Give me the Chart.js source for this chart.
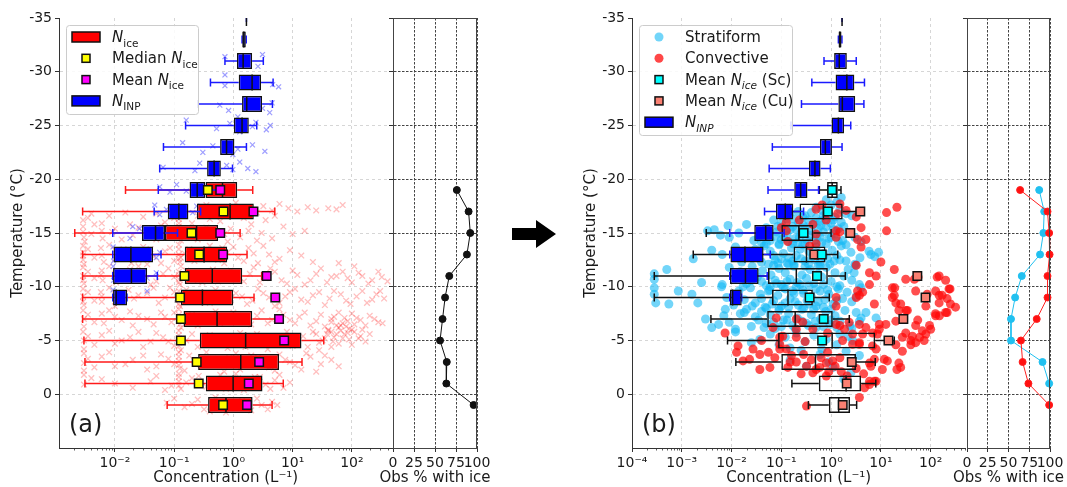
<!DOCTYPE html>
<html lang="en">
<head>
<meta charset="UTF-8">
<meta name="viewport" content="width=device-width, initial-scale=1.0">
<title>Ice and INP concentrations by temperature</title>
<script src="https://cdn.jsdelivr.net/npm/chart.js"></script>
<style>
  body { margin: 0; background: #fff; }
  #fig { position: relative; width: 1067px; height: 487px; overflow: hidden; background: #fff; }
  #fig canvas { position: absolute; top: 0; }
  #arrow { position: absolute; left: 508px; top: 216px; }
</style>
</head>
<body>
<div id="fig">
  <canvas id="mainA" width="400" height="487" style="left:0px"></canvas>
  <canvas id="sideA" width="125" height="487" style="left:370px"></canvas>
  <canvas id="mainB" width="400" height="487" style="left:573px"></canvas>
  <canvas id="sideB" width="123" height="487" style="left:944px"></canvas>
  <svg id="arrow" width="52" height="36"><polygon points="4,12 28,12 28,4 48,18 28,32 28,24 4,24" fill="#000"/></svg>
</div>

<script>
Chart.defaults.font.family = "'DejaVu Sans', sans-serif";
Chart.defaults.font.size = 14;
Chart.defaults.color = '#1a1a1a';

// ---- data -------------------------------------------------------------

// INP box summaries (L^-1), one box per 2 degree bin
const inpTemps = [-35, -33, -31, -29, -27, -25, -23, -21, -19, -17, -15, -13, -11, -9];
const inpLow  = [1.66, 1.40, 0.72, 0.41, 0.254, 0.156, 0.066, 0.057, 0.054, 0.046, 0.0092, 0.0092, 0.0092, 0.0092];
const inpQ1   = [1.66, 1.41, 1.15, 1.23, 1.40, 1.02, 0.597, 0.36, 0.182, 0.078, 0.0286, 0.0095, 0.0093, 0.0093];
const inpMed  = [1.66, 1.50, 1.46, 2.07, 1.68, 1.40, 0.766, 0.473, 0.245, 0.12, 0.0485, 0.0186, 0.019, 0.0105];
const inpQ3   = [1.66, 1.62, 2.07, 2.93, 3.05, 1.82, 1.04, 0.614, 0.335, 0.174, 0.070, 0.044, 0.035, 0.016];
const inpHigh = [1.66, 1.65, 3.2, 4.68, 4.56, 2.48, 1.66, 0.966, 0.56, 0.28, 0.114, 0.06, 0.052, 0.016];

// ice number concentration, all clouds (panel a)
const iceTemps = [-19, -17, -15, -13, -11, -9, -7, -5, -3, -1, 1];
const iceLow  = [0.0151, 0.00285, 0.0021, 0.00285, 0.00285, 0.00285, 0.00285, 0.0030, 0.00312, 0.00312, 0.0762];
const iceQ1   = [0.339, 0.243, 0.07, 0.151, 0.151, 0.13, 0.144, 0.271, 0.254, 0.343, 0.374];
const iceMed  = [0.655, 0.88, 0.239, 0.32, 0.44, 0.30, 0.53, 1.61, 1.33, 0.99, 0.75];
const iceQ3   = [1.16, 2.21, 0.552, 0.786, 1.41, 0.99, 2.08, 14.1, 5.9, 3.1, 2.11];
const iceHigh = [2.12, 5.0, 1.3, 1.7, 3.0, 2.23, 5.2, 33.5, 14.4, 6.95, 4.5];
const iceMedianMark = [0.37, 0.68, 0.196, 0.264, 0.149, 0.126, 0.13, 0.13, 0.24, 0.26, 0.67];
const iceMeanMark   = [0.60, 2.18, 0.60, 0.67, 3.65, 5.1, 5.9, 7.2, 2.72, 1.82, 1.70];

// ice number concentration split by cloud type (panel b)
const nbLow  = [0.58, 0.16, 0.0031, 0.0017, 0.00028, 0.00028, 0.00385, 0.0083, 0.0122, 0.163, 0.35];
const nbQ1   = [0.83, 0.232, 0.10, 0.176, 0.054, 0.065, 0.052, 0.086, 0.10, 0.566, 0.90];
const nbMed  = [1.05, 0.70, 0.225, 0.32, 0.20, 0.136, 0.19, 1.05, 0.485, 2.0, 1.42];
const nbQ3   = [1.36, 1.71, 0.44, 0.77, 0.86, 0.43, 1.08, 7.7, 3.16, 4.0, 2.4];
const nbHigh = [1.58, 3.2, 1.0, 1.36, 1.93, 0.92, 2.32, 18.6, 7.7, 7.9, 3.26];
const scMean = [1.05, 0.86, 0.28, 0.65, 0.52, 0.37, 0.71, 0.66, null, null, null];
const cuMean = [null, 3.86, 2.43, 0.46, 54, 79, 28.3, 14.2, 2.6, 2.06, 1.71];

// percentage of observations with ice
const obsTemps = [-19, -17, -15, -13, -11, -9, -7, -5, -3, -1, 1];
const obsAll = [76, 90, 92, 88, 67, 62, 59, 56, 64, 63.5, 96];
const obsSc  = [87, 93, 92, 88, 66, 58, 53, 53, 91, 99, null];
const obsCu  = [64, 97, 99, 99.5, 97, 97, 84, 65, 67, 74, 99];

// tick positions
const tempTicks = [-35, -30, -25, -20, -15, -10, -5, 0];
const decadesA = [1e-2, 1e-1, 1, 10, 100];
const decadesB = [1e-4, 1e-3, 1e-2, 1e-1, 1, 10, 100];
const obsTicks = [0, 25, 50, 75, 100];

// individual INP samples [conc, temp]
const inpSamples = [
  [0.72,-31.4],[3.1,-31.6],[2.6,-30.5],[0.72,-29.7],[0.72,-28.7],[4.6,-28.8],[5.8,-28.6],
  [0.59,-26.9],[0.83,-26.4],[1.19,-25.8],[3.1,-26.6],[4.1,-26.2],[4.5,-27.1],
  [0.16,-25.5],[0.52,-24.7],[0.87,-25.2],[1.28,-24.4],[2.1,-24.9],[2.4,-25.3],[3.6,-24.6],[4.2,-25.0],
  [0.139,-23.4],[0.305,-22.5],[0.45,-23.1],[0.98,-22.3],[1.19,-22.8],[2.1,-23.2],[3.4,-22.6],
  [0.065,-21.1],[0.224,-20.8],[0.27,-21.5],[0.52,-20.6],[0.77,-21.3],[0.98,-20.9],[1.28,-21.6],[1.75,-21.0],[2.4,-20.7],
  [0.057,-19.3],[0.085,-18.8],[0.11,-19.5],[0.16,-18.9],[0.27,-19.4],[0.45,-18.7],[0.77,-19.1],
  [0.047,-17.6],[0.057,-16.7],[0.074,-17.2],[0.206,-16.9],[0.24,-17.5],
  [0.018,-14.5],[0.026,-15.4],[0.05,-14.9],[0.02,-15.6],
  [0.0093,-13.7],[0.05,-12.7],[0.057,-13.2],[0.0095,-12.4],
  [0.0093,-11.9],[0.035,-10.8],[0.05,-11.3],[0.0095,-10.6],[0.0093,-9.7],[0.035,-9.6]
];

// individual ice samples [conc, temp]
const iceSamples = [
  [0.35,-17.6],[0.6,-17.2],[1.1,-17.8],[1.8,-17.4],[2.5,-16.9],[3.2,-17.5],[4.5,-17.1],[6,-17.7],[8.5,-17.3],
  [12,-17.0],[18,-17.4],[25,-17.1],[40,-17.3],[55,-17.2],[70,-17.6],[0.15,-17.0],[0.8,-16.7],[5,-16.6],
  [0.0029,-16.2],[0.0029,-15.6],[0.0029,-15.1],[0.003,-14.6],[0.0031,-14.2],[0.006,-15.9],[0.006,-15.2],
  [0.0062,-14.5],[0.01,-15.4],[0.018,-15.8],[0.02,-14.8],[0.035,-15.3],[0.05,-14.4],[0.07,-16.0],[0.09,-15.0],
  [0.12,-15.6],[0.12,-14.8],[0.13,-14.3],[0.2,-15.9],[0.3,-15.2],[0.45,-14.7],[0.6,-16.1],[0.9,-15.4],
  [1.3,-14.6],[2,-15.8],[3,-15.0],[4.5,-14.5],[7,-15.6],[10,-14.9],[16,-15.2],
  [0.0029,-13.8],[0.0029,-13.2],[0.0029,-12.5],[0.003,-12.1],[0.0058,-13.6],[0.006,-12.9],[0.0065,-12.3],
  [0.01,-13.4],[0.01,-12.6],[0.017,-13.1],[0.019,-12.2],[0.03,-13.7],[0.045,-12.8],[0.07,-13.3],[0.1,-12.4],
  [0.12,-13.9],[0.12,-13.0],[0.125,-12.3],[0.13,-12.7],[0.18,-13.5],[0.25,-12.9],[0.4,-13.8],[0.55,-12.5],
  [0.8,-13.2],[1.2,-12.7],[1.8,-13.6],[2.6,-12.2],[4,-13.0],[6,-12.6],[9,-13.4],[14,-12.9],[22,-12.3],
  [0.0029,-11.8],[0.0029,-11.0],[0.003,-10.3],[0.006,-11.5],[0.0062,-10.6],[0.01,-11.2],[0.0105,-10.4],
  [0.018,-11.6],[0.02,-10.8],[0.03,-11.3],[0.05,-10.5],[0.08,-11.7],[0.12,-11.4],[0.12,-10.7],[0.125,-10.2],
  [0.13,-11.9],[0.2,-11.0],[0.3,-10.4],[0.45,-11.6],[0.7,-10.9],[1,-11.3],[1.5,-10.5],[2.2,-11.8],[3.5,-10.8],
  [5,-11.4],[8,-10.3],[12,-11.1],[20,-10.6],[30,-11.7],[45,-10.9],[70,-11.4],[100,-10.4],[150,-11.0],
  [220,-10.6],[320,-10.9],[60,-12.2],[110,-11.9],
  [0.0029,-9.8],[0.0029,-9.1],[0.003,-8.3],[0.0058,-9.5],[0.006,-8.6],[0.01,-9.3],[0.01,-8.2],[0.017,-9.7],
  [0.021,-8.9],[0.035,-9.4],[0.055,-8.5],[0.085,-9.9],[0.12,-9.6],[0.12,-8.8],[0.125,-8.2],[0.2,-9.2],
  [0.32,-8.6],[0.5,-9.7],[0.75,-8.9],[1.1,-9.4],[1.7,-8.4],[2.6,-9.8],[4,-9.0],[6,-8.5],[9,-9.5],[14,-8.8],
  [22,-9.2],[35,-8.3],[50,-9.6],[80,-8.7],[120,-9.1],[180,-8.5],[260,-9.3],[350,-8.9],
  [0.0029,-7.8],[0.003,-7.0],[0.003,-6.3],[0.006,-7.5],[0.0065,-6.6],[0.01,-7.2],[0.018,-7.7],[0.02,-6.4],
  [0.035,-7.0],[0.06,-7.6],[0.09,-6.7],[0.12,-7.9],[0.12,-7.1],[0.125,-6.5],[0.13,-6.2],[0.2,-7.4],[0.3,-6.8],
  [0.5,-7.7],[0.8,-6.9],[1.2,-7.3],[2,-6.5],[3,-7.8],[4.5,-6.9],[7,-7.4],[11,-6.6],[16,-7.6],[25,-6.8],
  [35,-6.3],[50,-7.2],[70,-6.6],[100,-7.5],[140,-6.9],[200,-7.3],[280,-6.7],[40,-6.0],[60,-6.2],[90,-6.1],
  [0.0029,-5.8],[0.003,-5.0],[0.003,-4.2],[0.006,-5.5],[0.01,-4.7],[0.018,-5.3],[0.03,-4.4],[0.05,-5.7],
  [0.08,-4.9],[0.12,-5.9],[0.12,-5.2],[0.12,-4.5],[0.13,-4.1],[0.2,-5.6],[0.3,-4.8],[0.5,-5.3],[0.8,-4.3],
  [1.3,-5.7],[2,-4.9],[3,-5.4],[5,-4.6],[8,-5.8],[12,-5.1],[18,-4.4],[25,-5.6],[32,-5.0],[40,-5.9],[50,-5.3],
  [60,-4.7],[75,-5.6],[90,-5.1],[110,-5.8],[140,-5.4],[170,-4.9],[45,-4.4],[28,-4.1],[65,-6.4],[100,-6.0],[35,-5.2],
  [0.003,-3.8],[0.003,-2.9],[0.003,-2.2],[0.006,-3.5],[0.01,-2.6],[0.02,-3.2],[0.035,-2.3],[0.06,-3.7],
  [0.1,-2.8],[0.12,-3.9],[0.12,-3.1],[0.125,-2.4],[0.18,-3.6],[0.28,-2.7],[0.45,-3.3],[0.7,-2.1],[1.1,-3.8],
  [1.7,-2.9],[2.6,-3.4],[4,-2.5],[6,-3.7],[9,-3.0],[14,-2.3],[20,-3.5],[30,-2.8],[45,-3.2],[60,-2.6],
  [0.003,-1.8],[0.003,-0.9],[0.006,-1.4],[0.02,-0.6],[0.05,-1.7],[0.09,-0.8],[0.12,-1.9],[0.12,-1.2],
  [0.13,-0.5],[0.2,-1.5],[0.35,-0.7],[0.6,-1.8],[0.9,-1.1],[1.5,-0.4],[2.3,-1.6],[3.5,-0.9],[5,-1.3],
  [7,-0.6],[1.1,-1.9],
  [0.075,0.8],[0.15,1.2],[0.25,0.5],[0.4,1.6],[0.6,0.9],[0.9,1.3],[1.4,0.6],[2,1.5],[3,1.0],[4.5,0.7],
  [0.004,-16.8],[0.0035,-16.4],[0.008,-16.6],[0.015,-16.9],[0.03,-16.5],[0.05,-16.8],[0.1,-16.4],[0.25,-16.6],
  [0.4,-16.3],[1.5,-16.4],[3.5,-16.2],[0.0045,-15.8],[0.009,-15.1],[0.025,-15.5],[0.06,-15.7],[0.15,-15.3],
  [0.12,-16.3],[0.12,-15.9],[0.35,-15.5],[0.7,-14.9],[1.8,-15.2],[0.013,-14.4],[0.25,-14.4],[0.8,-14.2],
  [2.5,-14.3],[0.004,-14.9],
  [0.0035,-13.5],[0.0045,-12.7],[0.008,-13.9],[0.013,-12.9],[0.025,-12.5],[0.04,-13.5],[0.06,-12.2],
  [0.085,-13.6],[0.12,-13.5],[0.12,-12.6],[0.15,-13.1],[0.22,-12.4],[0.32,-13.4],[0.5,-13.0],[0.7,-12.2],
  [1.0,-13.7],[1.5,-12.4],[2.2,-13.1],[3.2,-13.8],[5,-12.3],[0.0029,-12.9],[0.014,-13.5],[0.035,-12.1],[0.65,-13.6],
  [0.0035,-11.4],[0.0045,-10.8],[0.008,-11.9],[0.013,-10.9],[0.025,-11.9],[0.04,-10.2],[0.065,-11.2],
  [0.1,-10.9],[0.12,-11.1],[0.12,-10.4],[0.16,-11.5],[0.25,-10.6],[0.38,-11.3],[0.55,-10.5],[0.9,-11.5],
  [1.3,-10.8],[1.9,-11.2],[2.8,-10.4],[4.2,-11.7],[6.5,-10.6],[10,-11.5],[16,-10.2],[25,-11.2],[38,-10.4],
  [55,-11.0],[85,-10.8],[130,-11.3],[190,-10.3],[280,-11.4],[400,-10.5],[0.0029,-10.6],[0.0058,-11.1],
  [0.0035,-9.5],[0.0045,-8.7],[0.008,-9.9],[0.013,-8.6],[0.025,-9.2],[0.045,-9.9],[0.07,-9.0],[0.1,-9.5],
  [0.12,-9.2],[0.12,-8.4],[0.16,-9.7],[0.25,-9.0],[0.4,-8.5],[0.6,-9.3],[0.9,-8.7],[1.4,-9.1],[2.1,-8.7],
  [3.2,-9.4],[5,-8.2],[7.5,-9.1],[11,-9.8],[18,-8.6],[28,-9.5],[42,-8.9],[65,-9.3],[95,-8.4],[150,-9.6],
  [220,-8.8],[300,-9.6],[0.0029,-8.6],[0.006,-9.1],
  [0.0035,-7.4],[0.0045,-6.7],[0.008,-7.8],[0.013,-6.9],[0.025,-7.3],[0.045,-6.5],[0.07,-7.2],[0.1,-7.6],
  [0.12,-7.4],[0.12,-6.8],[0.16,-7.0],[0.25,-6.4],[0.4,-7.1],[0.6,-6.6],[1.0,-7.6],[1.6,-6.9],[2.5,-7.3],
  [3.8,-6.6],[6,-7.9],[9,-6.9],[13,-7.2],[20,-6.4],[30,-7.4],[45,-6.7],[60,-7.6],[85,-6.8],[120,-7.1],
  [170,-6.4],[240,-7.0],[330,-6.6],[45,-7.0],[55,-6.4],[75,-7.1],[110,-6.5],[150,-6.0],
  [0.0035,-5.4],[0.0045,-4.6],[0.008,-5.9],[0.013,-5.0],[0.025,-5.8],[0.04,-4.9],[0.065,-5.3],[0.1,-4.5],
  [0.12,-5.5],[0.12,-4.8],[0.16,-5.0],[0.25,-4.4],[0.4,-5.5],[0.6,-4.7],[1.0,-5.2],[1.6,-4.4],[2.5,-5.6],
  [3.8,-4.2],[6,-5.2],[10,-4.5],[15,-5.4],[22,-5.8],[28,-4.8],[38,-5.6],[48,-4.9],[55,-5.6],[70,-5.2],
  [85,-5.7],[100,-4.6],[130,-5.2],[200,-5.6],[65,-5.9],[45,-5.8],[80,-6.3],
  [0.0035,-3.3],[0.0045,-2.5],[0.008,-3.9],[0.015,-2.8],[0.03,-3.6],[0.05,-2.6],[0.08,-3.3],[0.12,-3.5],
  [0.12,-2.7],[0.15,-2.2],[0.22,-3.1],[0.35,-3.9],[0.55,-2.9],[0.85,-3.4],[1.3,-2.3],[2,-3.6],[3.2,-3.0],
  [5,-2.2],[7.5,-3.2],[11,-2.7],[17,-3.8],[25,-2.1],[35,-3.6],
  [0.004,-1.5],[0.01,-1.0],[0.04,-1.2],[0.07,-0.4],[0.12,-1.6],[0.12,-0.8],[0.16,-1.1],[0.26,-1.7],
  [0.45,-1.3],[0.75,-0.5],[1.2,-1.5],[1.9,-0.8],[2.8,-1.6],[4.2,-0.5],[6,-1.8],[9,-1.1],
  [0.1,0.4],[0.2,0.9],[0.32,1.4],[0.5,0.3],[0.75,1.7],[1.1,0.8],[1.7,1.1],[2.5,0.4],[3.8,1.4],[5.5,1.0]
];

// stratiform cloud samples [conc, temp]
const stratSamples = [
  [0.8,-18.1],[1.3,-17.9],[1.6,-18.3],[0.5,-17.4],[0.65,-17.1],[1.0,-17.6],[1.5,-17.2],[2.0,-16.8],
  [0.4,-16.9],[0.3,-16.6],[0.22,-17.0],[0.9,-16.7],[1.2,-16.5],[2.6,-16.6],[0.15,-16.8],[0.7,-16.6],
  [0.0033,-15.2],[0.0045,-15.3],[0.006,-14.8],[0.0085,-15.7],[0.009,-14.6],[0.014,-15.0],[0.02,-15.8],[0.05,-15.5],
  [0.07,-16.2],[0.1,-15.9],[0.13,-16.3],[0.17,-15.6],[0.22,-16.0],[0.28,-15.7],[0.35,-16.2],[0.45,-15.9],
  [0.6,-16.1],[0.8,-15.6],[1.0,-15.9],[1.4,-15.4],[0.08,-15.1],[0.11,-14.7],[0.15,-15.3],[0.19,-14.5],
  [0.25,-15.0],[0.32,-14.4],[0.4,-15.2],[0.52,-14.7],[0.7,-15.1],[0.9,-14.5],[1.2,-14.9],[1.7,-14.3],
  [2.2,-15.0],[3.0,-14.6],[0.06,-14.3],[0.09,-14.0],[0.14,-14.2],[0.21,-14.1],[0.3,-14.0],[0.46,-14.3],
  [0.65,-14.1],[4.0,-14.2],[0.035,-14.6],[0.04,-14.1],
  [0.0017,-12.6],[0.004,-13.4],[0.0065,-13.0],[0.012,-13.7],[0.016,-12.3],[0.025,-13.2],[0.032,-12.7],
  [0.045,-13.8],[0.06,-13.3],[0.075,-12.5],[0.09,-13.9],[0.11,-13.1],[0.13,-12.2],[0.16,-13.6],[0.2,-12.9],
  [0.24,-13.5],[0.3,-12.4],[0.36,-13.3],[0.42,-12.8],[0.5,-13.7],[0.6,-12.3],[0.72,-13.1],[0.85,-12.6],
  [1.05,-13.4],[1.3,-12.9],[1.6,-13.8],[2.0,-12.4],[2.5,-13.2],[3.0,-12.1],[3.8,-12.7],[5.8,-13.3],
  [6.3,-13.0],[9.0,-13.2],[7.5,-12.8],[0.055,-12.1],[0.1,-12.6],[0.18,-12.1],[0.27,-13.9],[0.55,-12.0],
  [0.00028,-11.2],[0.00028,-10.7],[0.0005,-11.6],[0.0025,-10.4],[0.0065,-10.2],[0.009,-11.8],[0.012,-10.8],
  [0.015,-11.4],[0.02,-10.3],[0.026,-11.9],[0.033,-10.9],[0.042,-11.5],[0.05,-10.1],[0.062,-11.1],
  [0.075,-10.6],[0.09,-11.7],[0.1,-10.2],[0.12,-11.3],[0.15,-10.7],[0.18,-11.9],[0.21,-10.4],[0.26,-11.1],
  [0.32,-10.8],[0.38,-11.6],[0.45,-10.3],[0.55,-11.2],[0.65,-10.9],[0.8,-11.8],[1.0,-10.5],[1.2,-11.3],
  [1.5,-10.1],[1.8,-11.0],[2.2,-11.6],[2.6,-10.6],[3.1,-12.0],[3.7,-10.2],[2.9,-11.3],[0.07,-12.0],
  [0.14,-12.1],[0.3,-11.9],[0.6,-12.0],
  [0.00028,-9.9],[0.00028,-9.3],[0.0003,-8.5],[0.00055,-8.4],[0.00085,-9.6],[0.0016,-9.3],[0.0021,-8.5],
  [0.0063,-10.0],[0.008,-9.0],[0.011,-8.3],[0.014,-9.6],[0.018,-8.8],[0.024,-9.9],[0.03,-8.5],[0.038,-9.3],
  [0.047,-8.1],[0.058,-9.7],[0.07,-8.7],[0.085,-9.2],[0.1,-8.2],[0.12,-9.8],[0.15,-8.9],[0.18,-9.4],
  [0.22,-8.3],[0.27,-9.7],[0.33,-8.7],[0.4,-9.1],[0.5,-8.2],[0.6,-9.6],[0.75,-8.8],[0.9,-9.3],[1.1,-8.4],
  [1.4,-9.8],[1.7,-8.9],[2.1,-9.5],[2.6,-8.6],[3.2,-9.1],[4.0,-9.9],[0.06,-10.0],[0.2,-10.0],
  [0.003,-7.0],[0.004,-6.2],[0.0055,-6.5],[0.007,-7.3],[0.0075,-7.9],[0.009,-6.7],[0.012,-6.05],
  [0.015,-7.5],[0.02,-7.9],[0.025,-6.3],[0.03,-7.2],[0.04,-7.7],[0.05,-6.6],[0.06,-7.4],[0.075,-6.1],
  [0.09,-7.8],[0.11,-6.9],[0.14,-7.5],[0.17,-6.4],[0.21,-7.1],[0.26,-7.9],[0.32,-6.6],[0.4,-7.4],[0.5,-6.2],
  [0.62,-7.0],[0.78,-7.7],[0.95,-6.5],[1.2,-7.3],[1.5,-6.8],[1.9,-7.8],[2.4,-6.4],[3.2,-7.6],[4.0,-7.1],
  [5.0,-7.6],[8.0,-7.1],[3.7,-6.8],[2.6,-6.1],
  [0.012,-5.8],[0.025,-4.8],[0.037,-5.1],[0.06,-5.6],[0.09,-4.6],[0.12,-5.3],[0.15,-4.3],[0.2,-5.7],
  [0.3,-4.9],[0.45,-5.5],[0.65,-4.2],[0.8,-5.1],[1.3,-4.6],[1.5,-5.6],[2.0,-4.0],[2.7,-5.0],[2.2,-5.4],[0.25,-4.1],
  [0.15,-3.2],[0.32,-2.6],[0.6,-3.7],[1.1,-2.5],[2.5,-2.0],[3.7,-3.6],[1.8,-1.4],[0.9,-3.0],
  [0.12,-16.6],[0.18,-16.3],[0.27,-16.5],[0.5,-16.4],[0.75,-16.3],[1.1,-16.2],[1.6,-16.0],[0.085,-15.6],
  [0.13,-15.4],[0.2,-15.3],[0.3,-15.5],[0.55,-15.4],[0.62,-15.7],[1.1,-15.3],[1.8,-15.6],
  [0.05,-14.0],[0.075,-14.7],[0.1,-14.4],[0.13,-14.8],[0.17,-14.0],[0.23,-14.6],[0.37,-14.8],[0.6,-14.6],
  [0.8,-14.0],[1.0,-14.6],[1.4,-14.2],[2.0,-13.9],[0.045,-14.9],[0.028,-14.3],
  [0.04,-12.3],[0.07,-12.9],[0.085,-12.2],[0.14,-12.7],[0.17,-12.4],[0.25,-12.6],[0.35,-12.1],[0.47,-12.5],
  [0.7,-12.8],[0.95,-12.1],[1.15,-12.4],[1.5,-12.5],[0.02,-12.9],[0.03,-13.5],
  [0.04,-10.5],[0.055,-9.6],[0.08,-10.3],[0.11,-9.9],[0.13,-10.5],[0.17,-9.6],[0.24,-10.2],[0.28,-9.4],
  [0.36,-10.1],[0.5,-9.8],[0.7,-10.2],[0.85,-9.7],[1.3,-10.0],[0.025,-10.6],[0.017,-10.0],
  [0.04,-8.9],[0.05,-8.0],[0.065,-8.4],[0.09,-8.0],[0.12,-8.5],[0.14,-8.1],[0.19,-8.6],[0.28,-8.0],
  [0.36,-8.4],[0.45,-7.9],[0.55,-8.6],[0.7,-8.1],[1.0,-7.9],[1.3,-8.7],[0.026,-8.2],[0.018,-7.6],
  [0.035,-6.9],[0.045,-6.2],[0.07,-6.7],[0.1,-6.3],[0.13,-6.9],[0.19,-6.1],[0.26,-6.8],[0.35,-6.4],
  [0.48,-6.8],[0.7,-6.3],[1.0,-6.9],[1.3,-6.2]
];

// convective cloud samples [conc, temp]
const convSamples = [
  [0.5,-17.2],[0.66,-17.6],[1.5,-17.7],[2.0,-17.1],[1.35,-16.8],[13,-16.9],[21,-17.4],[0.126,-16.0],
  [0.126,-15.2],[0.23,-16.2],[0.43,-15.8],[1.26,-15.2],[1.5,-15.1],[4.0,-15.5],[5.0,-14.4],[3.4,-14.4],
  [13,-15.2],[0.37,-13.8],[0.5,-14.0],[0.8,-16.2],[3.2,-16.5],[0.1,-15.5],[1.26,-14.6],[0.5,-14.9],
  [0.135,-14.2],[4,-13.7],
  [5.9,-11.3],[4.3,-9.5],[18.6,-11.6],[31.6,-10.7],[17,-9.9],[17,-9.0],[25,-8.4],[23,-7.8],[34,-7.8],
  [47,-10.7],[85,-9.3],[148,-11.0],[200,-10.6],[234,-9.8],[148,-9.2],[214,-8.9],[316,-8.1],[214,-7.6],
  [126,-7.3],[56,-10.9],[135,-10.9],[245,-9.8],[170,-9.2],[126,-9.6],[50,-9.6],[19,-9.9],[5.9,-10.2],
  [3.4,-9.6],[3.7,-9.2],[1.26,-9.0],[0.5,-12.9],[3.2,-12.0],[8,-11.0],[10,-12.3],
  [100,-6.05],[68,-5.9],[50,-6.4],[40,-5.0],[60,-5.3],[80,-5.6],[40,-4.6],[27,-5.3],[20,-4.6],[27,-4.0],
  [9.3,-6.5],[8.5,-5.6],[5,-6.2],[3.7,-4.8],[74,-5.0],[95,-6.4],[55,-6.9],[150,-7.3],[125,-7.5],[200,-7.6],
  [250,-8.4],[148,-8.5],[80,-8.2],[32,-7.8],[20,-8.5],[18.6,-9.2],[7.4,-8.4],[3.2,-9.0],[1.26,-8.2],
  [0.0074,-5.7],[0.0126,-3.9],[0.0135,-4.5],[0.017,-3.1],[0.023,-3.25],[0.027,-4.2],[0.037,-3.7],
  [0.037,-2.3],[0.059,-2.5],[0.074,-3.4],[0.079,-7.1],[0.107,-5.4],[0.093,-4.65],[0.126,-4.2],[0.135,-2.5],
  [0.2,-7.0],[0.27,-6.7],[0.2,-6.05],[0.32,-2.6],[0.43,-2.0],[0.59,-2.5],[0.63,-3.4],[0.85,-3.9],[0.8,-2.9],
  [1.07,-3.1],[1.5,-3.4],[1.7,-5.0],[1.86,-6.05],[1.5,-6.4],[2.3,-6.7],[2.7,-4.65],[3.7,-4.65],[4.3,-5.6],
  [6.8,-5.7],[9.3,-6.05],[5.9,-2.9],[8,-1.2],[5.9,-0.9],[2.1,-1.7],[0.8,-1.7],[0.32,1.1],[13.5,-3.1],
  [23,-2.9],[25,-2.5],[12.6,-6.5],[20,-6.8],[31.6,-5.7],[43,-5.4],[50,-4.8],[0.068,-6.2],[0.093,-5.3],
  [0.2,-5.3],[0.43,-6.05],[0.85,-5.7],[1.26,-6.5],[2.7,-5.6],[3.7,-6.5],[6.8,-4.5],[8,-4.2],[0.093,-4.2],
  [0.16,-3.6],[0.2,-3.0],[0.28,-3.7],[0.4,-3.2],[0.25,-1.9],[0.5,-2.3],[0.9,-2.1],[1.2,-2.6],[1.6,-2.1],
  [3.2,-2.4],[4.5,-1.9],[6.3,-2.6],[11.7,-3.25],[21,-2.3],[10.7,-2.3],[7.4,-3.25],[5.9,-1.2],[7.4,-1.2],
  [4.7,-0.6],[3.7,0.3],[0.3,-4.9],[0.15,-3.0],[0.055,-3.9],[0.04,-5.0]
];

// ---- helpers ----------------------------------------------------------

const SUP = { '-': '\u207B', '0': '\u2070', '1': '\u00B9', '2': '\u00B2', '3': '\u00B3', '4': '\u2074' };
const pow10Label = v => '10' + String(Math.round(Math.log10(v))).split('').map(c => SUP[c]).join('');
const pts = arr => arr.map(([x, y]) => ({ x, y }));
const rowPts = (vals, temps) => temps.map((t, i) => ({ x: vals[i], y: t })).filter(p => p.x !== null);
const floatBars = (q1, q3, temps) => temps.map((t, i) => ({ y: t, x: [q1[i], q3[i]] }));

const CAP = 0.38;   // whisker cap half height (deg)
const HALF = 0.75;  // box half height (deg)

// whiskers go under their box, medians on top of it
const boxDraw = {
  id: 'boxDraw',
  beforeDatasetDraw(chart, args) {
    const ds = chart.data.datasets[args.index];
    if (!ds.stats) return;
    const { x, y } = chart.scales, s = ds.stats, ctx = chart.ctx, a = chart.chartArea;
    ctx.save();
    ctx.beginPath(); ctx.rect(a.left, a.top, a.right - a.left, a.bottom - a.top); ctx.clip();
    ctx.strokeStyle = ds.whiskerColor; ctx.lineWidth = 1.5;
    ctx.beginPath();
    s.temps.forEach((t, i) => {
      const yc = y.getPixelForValue(t), ya = y.getPixelForValue(t - CAP), yb = y.getPixelForValue(t + CAP);
      const lo = x.getPixelForValue(s.low[i]), q1 = x.getPixelForValue(s.q1[i]);
      const q3 = x.getPixelForValue(s.q3[i]), hi = x.getPixelForValue(s.high[i]);
      ctx.moveTo(lo, yc); ctx.lineTo(q1, yc);
      ctx.moveTo(q3, yc); ctx.lineTo(hi, yc);
      ctx.moveTo(lo, ya); ctx.lineTo(lo, yb);
      ctx.moveTo(hi, ya); ctx.lineTo(hi, yb);
    });
    ctx.stroke(); ctx.restore();
  },
  afterDatasetDraw(chart, args) {
    const ds = chart.data.datasets[args.index];
    if (!ds.stats) return;
    const { x, y } = chart.scales, s = ds.stats, ctx = chart.ctx, a = chart.chartArea;
    ctx.save();
    ctx.beginPath(); ctx.rect(a.left, a.top, a.right - a.left, a.bottom - a.top); ctx.clip();
    ctx.strokeStyle = '#111'; ctx.lineWidth = 1.5;
    ctx.beginPath();
    s.temps.forEach((t, i) => {
      const m = x.getPixelForValue(s.med[i]);
      ctx.moveTo(m, y.getPixelForValue(t - HALF)); ctx.lineTo(m, y.getPixelForValue(t + HALF));
    });
    ctx.stroke(); ctx.restore();
  }
};

// small ticks between decades on the log axis
const minorTicks = {
  id: 'minorTicks',
  afterDraw(chart) {
    const sx = chart.scales.x, ctx = chart.ctx, b = chart.chartArea.bottom;
    ctx.save(); ctx.strokeStyle = '#333'; ctx.lineWidth = 0.8; ctx.beginPath();
    for (let e = Math.floor(Math.log10(sx.min)); e <= Math.ceil(Math.log10(sx.max)); e++) {
      for (let k = 2; k < 10; k++) {
        const v = k * Math.pow(10, e);
        if (v < sx.min || v > sx.max) continue;
        const px = Math.round(sx.getPixelForValue(v)) + 0.5;
        ctx.moveTo(px, b); ctx.lineTo(px, b + 2.5);
      }
    }
    ctx.stroke(); ctx.restore();
  }
};

// box around the narrow panel plus its x title (drawn here so it is not squeezed to the axis width)
const sideFrame = {
  id: 'sideFrame',
  afterDraw(chart) {
    const a = chart.chartArea, ctx = chart.ctx;
    ctx.save(); ctx.strokeStyle = '#444'; ctx.lineWidth = 1;
    ctx.strokeRect(Math.round(a.left) + 0.5, Math.round(a.top) + 0.5, Math.round(a.right - a.left) - 1, Math.round(a.bottom - a.top));
    ctx.fillStyle = '#1a1a1a'; ctx.font = "15px 'DejaVu Sans'";
    ctx.textAlign = 'center'; ctx.textBaseline = 'middle';
    ctx.fillText('Obs % with ice', (a.left + a.right) / 2, 478);
    ctx.restore();
  }
};

// text made of pieces: n normal, i italic, s subscript, si italic subscript
function richText(ctx, parts, x, y, size) {
  parts.forEach(([str, kind]) => {
    const sub = kind.includes('s'), it = kind.includes('i');
    const fs = sub ? size * 0.7 : size;
    ctx.font = (it ? 'italic ' : '') + fs + "px 'DejaVu Sans'";
    ctx.fillText(str, x, y + (sub ? size * 0.3 : 0));
    x += ctx.measureText(str).width;
  });
}

function legendBox(w, h, items) {
  return {
    id: 'boxLegend',
    afterDraw(chart) {
      const ctx = chart.ctx, a = chart.chartArea;
      const L = Math.round(a.left) + 7, T = Math.round(a.top) + 7;
      ctx.save();
      ctx.fillStyle = 'rgba(255,255,255,0.85)'; ctx.strokeStyle = '#cccccc'; ctx.lineWidth = 1;
      ctx.beginPath(); ctx.roundRect(L + 0.5, T + 0.5, w, h, 3); ctx.fill(); ctx.stroke();
      items.forEach((it, i) => {
        const cy = T + 12 + i * 21.3, cx = L + 20;
        ctx.lineWidth = 1.5; ctx.strokeStyle = '#111'; ctx.fillStyle = it.color;
        if (it.kind === 'rect') {
          ctx.fillRect(cx - 14, cy - 5, 28, 10); ctx.strokeRect(cx - 14, cy - 5, 28, 10);
        } else if (it.kind === 'square') {
          ctx.fillRect(cx - 4, cy - 4, 8, 8); ctx.strokeRect(cx - 4, cy - 4, 8, 8);
        } else {
          ctx.beginPath(); ctx.arc(cx, cy, 4.5, 0, 2 * Math.PI); ctx.fill();
        }
        ctx.fillStyle = '#1a1a1a'; ctx.textBaseline = 'alphabetic';
        richText(ctx, it.text, L + 46, cy + 5, 15);
      });
      ctx.restore();
    }
  };
}

function panelTag(text) {
  return {
    id: 'panelTag',
    afterDraw(chart) {
      const ctx = chart.ctx, a = chart.chartArea;
      ctx.save(); ctx.fillStyle = '#1a1a1a'; ctx.font = "24px 'DejaVu Sans'";
      ctx.textBaseline = 'alphabetic'; ctx.fillText(text, a.left + 10, a.bottom - 16);
      ctx.restore();
    }
  };
}

const lightGrid = 'rgba(0,0,0,0.16)';

function mainChart(id, xMin, xMax, decades, datasets, legend, tag) {
  return new Chart(document.getElementById(id), {
    type: 'scatter',
    data: { datasets },
    options: {
      responsive: false, animation: false, events: [],
      layout: { padding: { left: 0, top: 18, right: 7, bottom: 0 } },
      plugins: { legend: { display: false }, tooltip: { enabled: false } },
      scales: {
        x: {
          type: 'logarithmic', min: xMin, max: xMax, beginAtZero: false, offset: false,
          afterBuildTicks: s => { s.ticks = decades.map(v => ({ value: v })); },
          afterFit: s => { s.height = 39; },
          ticks: { callback: v => pow10Label(v), padding: 3, maxRotation: 0, autoSkip: false },
          grid: { color: lightGrid, tickColor: '#333', tickLength: 4, offset: false },
          border: { color: '#333', width: 1, dash: [3, 3] },
          title: { display: true, text: 'Concentration (L\u207B\u00B9)', font: { size: 15 }, padding: { top: 0, bottom: 0 } }
        },
        y: {
          type: 'linear', reverse: true, min: -35, max: 5, offset: false,
          afterBuildTicks: s => { s.ticks = tempTicks.map(v => ({ value: v })); },
          afterFit: s => { s.width = 59; },
          ticks: { padding: 3, callback: v => String(v) },
          grid: {
            color: c => (c.tick && c.tick.value === -35 ? 'rgba(0,0,0,0)' : lightGrid),
            tickColor: '#333', tickLength: 4, offset: false
          },
          border: { color: '#333', width: 1, dash: [3, 3] },
          title: { display: true, text: 'Temperature (\u00B0C)', font: { size: 15 }, padding: { top: 9.5, bottom: 0 } }
        }
      }
    },
    plugins: [boxDraw, minorTicks, legendBox(legend.w, legend.h, legend.items), panelTag(tag)]
  });
}

function sideChart(id, datasets, padRight) {
  return new Chart(document.getElementById(id), {
    type: 'scatter',
    data: { datasets },
    options: {
      responsive: false, animation: false, events: [],
      layout: { padding: { left: 0, top: 18, right: padRight, bottom: 0 } },
      plugins: { legend: { display: false }, tooltip: { enabled: false } },
      scales: {
        x: {
          type: 'linear', min: 0, max: 100,
          afterBuildTicks: s => { s.ticks = obsTicks.map(v => ({ value: v })); },
          afterFit: s => { s.height = 39; },
          ticks: { padding: 3, maxRotation: 0, autoSkip: false },
          grid: { color: '#444', tickColor: '#333', tickLength: 4 },
          border: { color: '#444', width: 1, dash: [2.5, 1.5] },
          title: { display: false }
        },
        y: {
          type: 'linear', reverse: true, min: -35, max: 5,
          afterBuildTicks: s => { s.ticks = tempTicks.map(v => ({ value: v })); },
          afterFit: s => { s.width = 23; },
          ticks: { display: false },
          grid: { color: '#444', tickColor: '#333', tickLength: 4 },
          border: { color: '#444', width: 1, dash: [2.5, 1.5] }
        }
      }
    },
    plugins: [sideFrame]
  });
}

const boxBar = (label, q1, q3, temps, fill, stats, whiskerColor) => ({
  type: 'bar', label, indexAxis: 'y', grouped: false,
  data: floatBars(q1, q3, temps),
  backgroundColor: fill, borderColor: '#111', borderWidth: 1.5, borderSkipped: false,
  barPercentage: 0.75, categoryPercentage: 1.0,
  stats, whiskerColor
});

const markers = (label, vals, temps, fill) => ({
  type: 'scatter', label, data: rowPts(vals, temps),
  pointStyle: 'rect', pointRadius: 6, backgroundColor: fill, borderColor: '#111', borderWidth: 1.5
});

const inpStats = { temps: inpTemps, low: inpLow, q1: inpQ1, med: inpMed, q3: inpQ3, high: inpHigh };

// ---- panel (a) --------------------------------------------------------
mainChart('mainA', Math.pow(10, -2.944), Math.pow(10, 2.686), decadesA, [
  markers('Median N_ice', iceMedianMark, iceTemps, '#ffff00'),
  markers('Mean N_ice', iceMeanMark, iceTemps, '#ff00ff'),
  boxBar('N_INP', inpQ1, inpQ3, inpTemps, '#0000ff', inpStats, '#1a1aff'),
  boxBar('N_ice', iceQ1, iceQ3, iceTemps, '#ff0000',
    { temps: iceTemps, low: iceLow, q1: iceQ1, med: iceMed, q3: iceQ3, high: iceHigh }, '#ff1a1a'),
  { type: 'scatter', label: 'INP samples', data: pts(inpSamples), pointStyle: 'crossRot', pointRadius: 3.5,
    borderColor: 'rgba(40,40,255,0.45)', borderWidth: 1.2, backgroundColor: 'rgba(0,0,0,0)' },
  { type: 'scatter', label: 'ice samples', data: pts(iceSamples), pointStyle: 'crossRot', pointRadius: 4,
    borderColor: 'rgba(255,0,0,0.25)', borderWidth: 1.3, backgroundColor: 'rgba(0,0,0,0)' }
], { w: 132, h: 89, items: [
  { kind: 'rect', color: '#ff0000', text: [['N', 'i'], ['ice', 's']] },
  { kind: 'square', color: '#ffff00', text: [['Median ', 'n'], ['N', 'i'], ['ice', 's']] },
  { kind: 'square', color: '#ff00ff', text: [['Mean ', 'n'], ['N', 'i'], ['ice', 's']] },
  { kind: 'rect', color: '#0000ff', text: [['N', 'i'], ['INP', 's']] }
] }, '(a)');

sideChart('sideA', [
  { type: 'scatter', showLine: true, data: rowPts(obsAll, obsTemps), borderColor: '#111', backgroundColor: '#111',
    borderWidth: 1, pointRadius: 3.5, clip: false }
], 18);

// ---- panel (b) --------------------------------------------------------
mainChart('mainB', 1e-4, Math.pow(10, 2.7), decadesB, [
  markers('Mean N_ice (Sc)', scMean, iceTemps, '#00ffff'),
  markers('Mean N_ice (Cu)', cuMean, iceTemps, '#fa8072'),
  boxBar('N_INP', inpQ1, inpQ3, inpTemps, '#0000ff', inpStats, '#1a1aff'),
  boxBar('N_ice', nbQ1, nbQ3, iceTemps, 'rgba(0,0,0,0)',
    { temps: iceTemps, low: nbLow, q1: nbQ1, med: nbMed, q3: nbQ3, high: nbHigh }, '#111'),
  { type: 'scatter', label: 'Convective', data: pts(convSamples), pointRadius: 4.5,
    backgroundColor: 'rgba(255,10,10,0.72)', borderWidth: 0 },
  { type: 'scatter', label: 'Stratiform', data: pts(stratSamples), pointRadius: 4.5,
    backgroundColor: 'rgba(20,185,245,0.6)', borderWidth: 0 }
], { w: 153, h: 110, items: [
  { kind: 'dot', color: 'rgba(20,185,245,0.6)', text: [['Stratiform', 'n']] },
  { kind: 'dot', color: 'rgba(255,10,10,0.75)', text: [['Convective', 'n']] },
  { kind: 'square', color: '#00ffff', text: [['Mean ', 'n'], ['N', 'i'], ['ice', 'si'], [' (Sc)', 'n']] },
  { kind: 'square', color: '#fa8072', text: [['Mean ', 'n'], ['N', 'i'], ['ice', 'si'], [' (Cu)', 'n']] },
  { kind: 'rect', color: '#0000ff', text: [['N', 'i'], ['INP', 'si']] }
] }, '(b)');

sideChart('sideB', [
  { type: 'scatter', showLine: true, data: rowPts(obsCu, obsTemps), borderColor: '#ff2020', backgroundColor: '#ff1010',
    borderWidth: 1, pointRadius: 3.5, clip: false },
  { type: 'scatter', showLine: true, data: rowPts(obsSc, obsTemps), borderColor: '#20c0f0', backgroundColor: '#20c0f0',
    borderWidth: 1, pointRadius: 3.5, clip: false }
], 17);
</script>
</body>
</html>
